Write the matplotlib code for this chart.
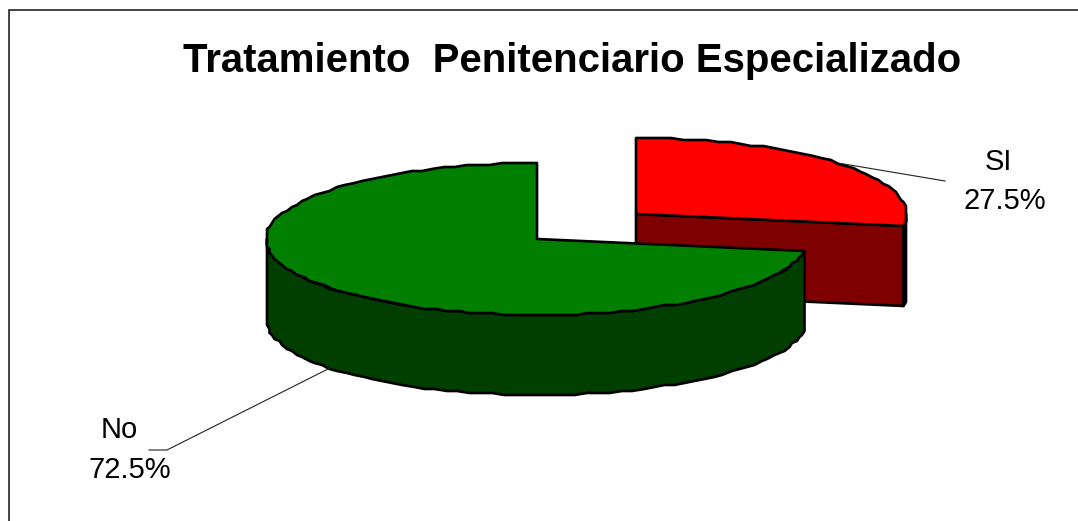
import matplotlib
matplotlib.use('Agg')
import matplotlib.pyplot as plt
from matplotlib.patches import Polygon
import numpy as np

plt.rcParams['font.family'] = ['Liberation Sans', 'DejaVu Sans']

title = 'Tratamiento  Penitenciario Especializado'
labels = ['SI', 'No']
shares = [27.5, 72.5]
pct_labels = ['27.5%', '72.5%']

top_colors = ['#ff0000', '#007f00']
side_colors = ['#7f0000', '#003f00']

# pie drawn in pixel space
rx, ry, depth = 271, 76, 80
centers = [(636, 214), (537, 239)]


def arc(cx, cy, a0, a1, dy=0):
    # ellipse arc, snapped a bit to look like the jagged excel outline
    n = max(2, int(abs(a1 - a0) / 2.5) + 1)
    t = np.radians(np.linspace(a0, a1, n))
    x = cx + np.round(rx * np.cos(t) / 2.5) * 2.5
    y = cy - np.round(ry * np.sin(t) / 2) * 2
    return np.column_stack([x, y + dy])


fig = plt.figure(figsize=(10.78, 5.21), dpi=100)
ax = fig.add_axes([0, 0, 1, 1])
ax.set_xlim(0, 1078)
ax.set_ylim(521, 0)
ax.axis('off')

# frame, only top and left are visible
ax.plot([8.5, 8.5, 1078], [521, 9.5, 9.5], color='#222222', lw=1.2, solid_joinstyle='miter')

edge = dict(edgecolor='black', lw=1.9, joinstyle='round')

# angles from the shares, clockwise from 12 o'clock
end_si = 90 - shares[0] * 3.6

# red slice
cx, cy = centers[0]
end_pt = arc(cx, cy, end_si, end_si)[0]
wall = [(cx, cy), tuple(end_pt), (end_pt[0], end_pt[1] + depth), (cx, cy + depth)]
ax.add_patch(Polygon(wall, facecolor=side_colors[0], **edge))
strip = np.vstack([arc(cx, cy, end_si, 0), arc(cx, cy, 0, end_si, depth)])
ax.add_patch(Polygon(strip, facecolor=side_colors[0], **edge))
top = np.vstack([[(cx, cy)], arc(cx, cy, 90, end_si)])
ax.add_patch(Polygon(top, facecolor=top_colors[0], **edge))

# green slice
cx, cy = centers[1]
end_no = 90 + shares[1] * 3.6
strip = np.vstack([arc(cx, cy, 180, end_no), arc(cx, cy, end_no, 180, depth)])
ax.add_patch(Polygon(strip, facecolor=side_colors[1], **edge))
top = np.vstack([[(cx, cy)], arc(cx, cy, 90, end_no)])
ax.add_patch(Polygon(top, facecolor=top_colors[1], **edge))

# leader lines
ax.plot([838, 945], [163, 181], color='#222222', lw=0.8)
ax.plot([330, 167, 149], [368, 450, 450], color='#222222', lw=0.8)

ax.text(572, 72, title, fontsize=28.9, fontweight='bold', ha='center', va='baseline', color='black')
ax.text(998, 170, labels[0], fontsize=21, ha='center', va='baseline')
ax.text(1005, 209, pct_labels[0], fontsize=21, ha='center', va='baseline')
ax.text(119, 438, labels[1], fontsize=21, ha='center', va='baseline')
ax.text(130, 478, pct_labels[1], fontsize=21, ha='center', va='baseline')

fig.savefig('out.png', dpi=100, facecolor='white')
